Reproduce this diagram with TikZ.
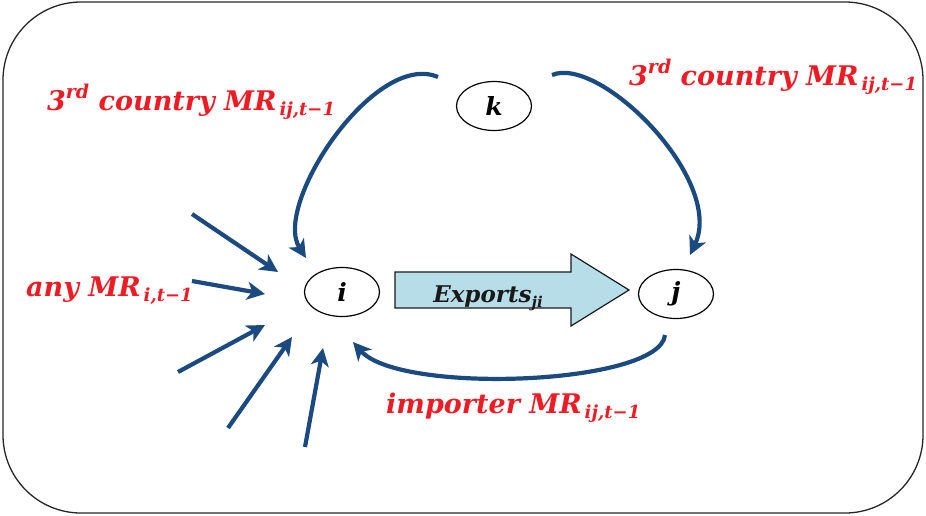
\documentclass[tikz,border=0pt]{standalone}
\usepackage{fontspec}
\setmainfont{DejaVu Serif}
\usetikzlibrary{arrows.meta,shapes.geometric}
\definecolor{mrred}{RGB}{237,28,36}
\definecolor{arrblue}{RGB}{27,74,128}
\definecolor{expfill}{RGB}{183,221,232}
\newcommand{\lsub}[1]{\hspace{3pt}\raisebox{-0.2em}{\fontsize{18}{20}\selectfont #1}}
\newcommand{\lsup}[1]{\raisebox{0.42em}{\fontsize{19}{20}\selectfont #1}}
\newcommand{\esub}[1]{\raisebox{-0.22em}{\fontsize{15}{18}\selectfont #1}}
\begin{document}
\begin{tikzpicture}[x=1pt,y=-1pt,
  lbl/.style={text=mrred, inner sep=0pt, anchor=base west, font=\fontsize{27}{32}\selectfont\bfseries\itshape},
  country/.style={draw=black, line width=1.2pt, ellipse, minimum width=75pt, minimum height=49pt, inner sep=0pt, font=\fontsize{25}{28}\selectfont\bfseries\itshape},
  flow/.style={draw=arrblue, line width=4.2pt, -{Stealth[length=18pt,width=18pt,inset=5pt]}},
  bigarrow/.style={draw=black!90, line width=1.2pt, fill=expfill},
  frame/.style={draw=black!85, line width=1.3pt, rounded corners=78pt}
]
\useasboundingbox (0,0) rectangle (926,515);
\draw[frame] (3,2) rectangle (923,513);

% countries
\node[country] (k) at (494,106) {k};
\node[country] (i) at (342,292) {i};
\node[country] (j) at (676,294) {j};

% exports arrow
\draw[bigarrow] (395,272) -- (571,272) -- (571,254) -- (629,290) -- (571,326) -- (571,308) -- (395,308) -- cycle;
\node[inner sep=0pt, anchor=base, text=black!90, font=\fontsize{23}{28}\selectfont\bfseries\itshape] (exp) at (488,302) {Exports\esub{ji}};

% labels
\node[lbl] (l1) at (47,110) {3\lsup{rd} country MR\lsub{ij,t−1}};
\node[lbl] (l2) at (629,85) {3\lsup{rd} country MR\lsub{ij,t−1}};
\node[lbl] (l3) at (26,296) {any MR\lsub{i,t−1}};
\node[lbl] (l4) at (386,413) {importer MR\lsub{ij,t−1}};

% curved flows
\coordinate (kl) at (438,77);
\coordinate (ia) at (306,258);
\draw[flow] (kl) .. controls (375,50) and (272,205) .. (ia);
\coordinate (kr) at (552,75);
\coordinate (ja) at (690,255);
\draw[flow] (kr) .. controls (600,55) and (725,180) .. (ja);
\coordinate (jb) at (665,335);
\coordinate (ib) at (353,342);
\draw[flow] (jb) .. controls (660,385) and (400,395) .. (ib);

% any MR flows
\coordinate (sa) at (192,214); \coordinate (ta) at (278,272);
\coordinate (sb) at (192,281); \coordinate (tb) at (265,294);
\coordinate (sc) at (178,372); \coordinate (tc) at (265,325);
\coordinate (sd) at (228,428); \coordinate (td) at (292,337);
\coordinate (se) at (305,447); \coordinate (te) at (323,348);
\draw[flow] (sa) -- (ta);
\draw[flow] (sb) -- (tb);
\draw[flow] (sc) -- (tc);
\draw[flow] (sd) -- (td);
\draw[flow] (se) -- (te);
\end{tikzpicture}
\end{document}
